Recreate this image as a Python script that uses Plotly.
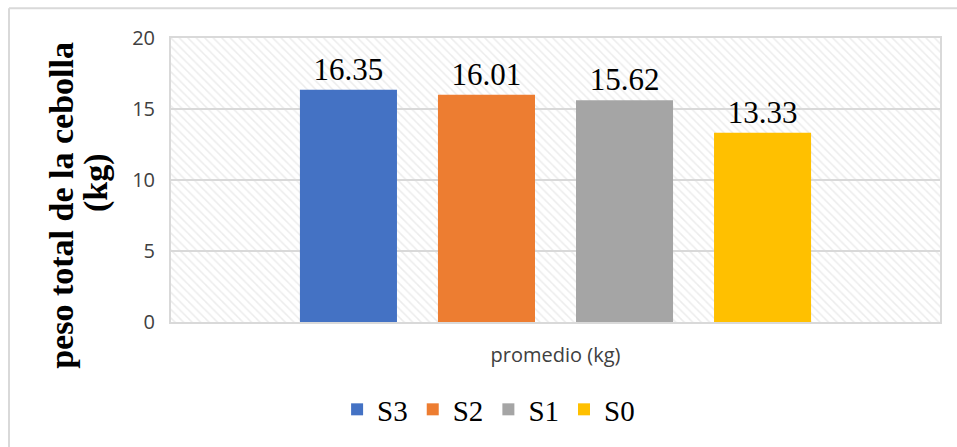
import plotly.graph_objects as go

categories = ["promedio (kg)"]
series_names = ["S3", "S2", "S1", "S0"]
series_values = [16.35, 16.01, 15.62, 13.33]
series_colors = ["#4472C4", "#ED7D31", "#A5A5A5", "#FFC000"]
y_ticks = [0, 5, 10, 15, 20]
y_title_lines = ["peso total de la cebolla", "(kg)"]

L, R, T, B = 171, 17, 38, 123
W, H = 957, 447
pw, ph = W - L - R, H - T - B


def px_x(p):
    return (p - L) / pw


def px_y(p):
    return (H - B - p) / ph


fig = go.Figure()

# hatched plot-area background on the hidden main x axis
fig.add_trace(go.Bar(
    x=[0], y=[20], width=[1], xaxis="x", yaxis="y",
    marker=dict(color="rgba(0,0,0,0)", line=dict(width=0),
                pattern=dict(shape="\\", fgcolor="#D9D9D9", bgcolor="rgba(0,0,0,0)",
                             size=6, solidity=0.25)),
    showlegend=False, hoverinfo="skip",
))

for name, val, col in zip(series_names, series_values, series_colors):
    fig.add_trace(go.Bar(
        x=categories, y=[val], name=name, xaxis="x2", yaxis="y",
        marker=dict(color=col, line=dict(width=0)),
        text=[f"{val:.2f}"], textposition="outside", constraintext="none",
        textfont=dict(family="Liberation Serif", size=31, color="#000000"),
        cliponaxis=False,
    ))

fig.update_layout(
    width=W, height=H,
    margin=dict(l=L, r=R, t=T, b=B),
    paper_bgcolor="white", plot_bgcolor="white",
    barmode="group", bargap=0.282, bargroupgap=0.297,
    xaxis=dict(range=[-0.5, 0.5], visible=False, showgrid=False, fixedrange=True),
    xaxis2=dict(overlaying="x", type="category", showgrid=False,
                showline=True, linecolor="#D9D9D9", linewidth=2, mirror=True,
                ticks="", tickfont=dict(family="Open Sans", size=20, color="#404040"),
                ticklabelstandoff=14),
    yaxis=dict(range=[0, 20], tickvals=y_ticks, showgrid=True, gridcolor="#D9D9D9", gridwidth=2,
               zeroline=False, showline=True, linecolor="#D9D9D9", linewidth=2, mirror=True,
               ticks="", ticklabelstandoff=10,
               tickfont=dict(family="Open Sans", size=20, color="#404040")),
    legend=dict(orientation="h", x=0.413, xanchor="center", y=-0.308, yanchor="middle",
                font=dict(family="Liberation Serif", size=29, color="#000000"),
                itemwidth=30, traceorder="normal"),
    showlegend=True,
    annotations=[
        dict(text=y_title_lines[0], textangle=-90, xref="paper", yref="paper",
             x=px_x(62), y=px_y(207), xanchor="center", yanchor="middle", showarrow=False,
             font=dict(family="Liberation Serif", size=34, color="#000000", weight="bold")),
        dict(text=y_title_lines[1], textangle=-90, xref="paper", yref="paper",
             x=px_x(96), y=px_y(184), xanchor="center", yanchor="middle", showarrow=False,
             font=dict(family="Liberation Serif", size=34, color="#000000", weight="bold")),
    ],
    shapes=[
        dict(type="line", xref="paper", yref="paper",
             x0=px_x(9), x1=px_x(W + 5), y0=px_y(8), y1=px_y(8),
             line=dict(color="#D9D9D9", width=2)),
        dict(type="line", xref="paper", yref="paper",
             x0=px_x(9), x1=px_x(9), y0=px_y(8), y1=px_y(H + 5),
             line=dict(color="#D9D9D9", width=2)),
    ],
)

fig.write_html("out.html")
